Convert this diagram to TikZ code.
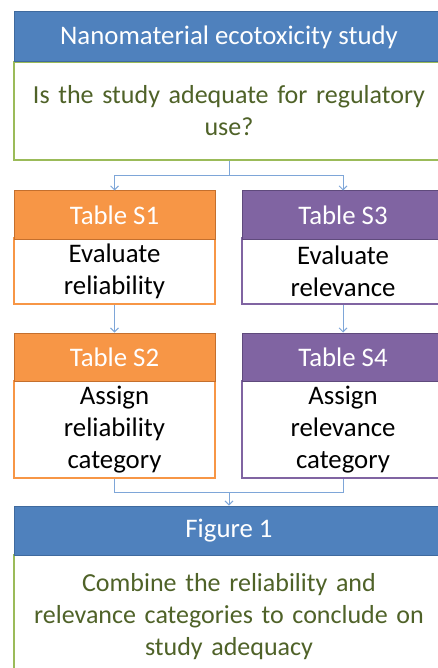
\documentclass[tikz,border=0pt]{standalone}
\usepackage{fontspec}
\setmainfont{Carlito}
\usetikzlibrary{arrows.meta}
\definecolor{hblue}{HTML}{4F81BD}
\definecolor{hbluedk}{HTML}{3F6A9E}
\definecolor{gborder}{HTML}{9BBB59}
\definecolor{gtext}{HTML}{4F6228}
\definecolor{orfill}{HTML}{F79646}
\definecolor{ordk}{HTML}{C46F2D}
\definecolor{pufill}{HTML}{8064A2}
\definecolor{pudk}{HTML}{5F4A7C}
\definecolor{conncol}{HTML}{7EA6D8}
\tikzset{
  txt/.style={font=\fontsize{26.8}{32}\selectfont, align=center, inner sep=0pt},
  gtxt/.style={font=\fontsize{26}{32}\selectfont, align=center, inner sep=0pt},
  bluehead/.style={txt, draw=hbluedk, fill=hblue, text=white, line width=1pt},
  greenbody/.style={gtxt, draw=gborder, fill=white, text=gtext, line width=1.5pt},
  orhead/.style={txt, draw=ordk, fill=orfill, text=white, line width=1pt},
  orbody/.style={txt, draw=orfill, fill=white, text=black, line width=1.5pt},
  puhead/.style={txt, draw=pudk, fill=pufill, text=white, line width=1pt},
  pubody/.style={txt, draw=pufill, fill=white, text=black, line width=1.5pt},
  conn/.style={draw=conncol, line width=0.9pt},
  arr/.style={conn, -{Straight Barb[length=4pt,width=8pt]}}
}
\begin{document}
\begin{tikzpicture}[x=1pt,y=-1pt]
\path[use as bounding box] (0,0) rectangle (438,668);
\clip (0,0) rectangle (438,668);
% top
\node[greenbody, minimum width=430pt, minimum height=98pt, text width=420pt] (q1) at (229,111) {Is the study adequate for regulatory\\use?};
\node[bluehead, minimum width=430pt, minimum height=50pt] (h1) at (229,37) {Nanomaterial ecotoxicity study};
% left column
\node[orbody, minimum width=201pt, minimum height=66pt] (s1b) at (114.5,271) {Evaluate\\reliability};
\node[orhead, minimum width=201pt, minimum height=48pt] (s1h) at (114.5,215) {Table S1};
\node[orbody, minimum width=201pt, minimum height=97pt] (s2b) at (114.5,429.5) {Assign\\reliability\\category};
\node[orhead, minimum width=201pt, minimum height=48pt] (s2h) at (114.5,357) {Table S2};
% right column
\node[pubody, minimum width=202pt, minimum height=66pt] (s3b) at (343,271) {Evaluate\\relevance};
\node[puhead, minimum width=202pt, minimum height=48pt] (s3h) at (343,215) {Table S3};
\node[pubody, minimum width=202pt, minimum height=97pt] (s4b) at (343,429.5) {Assign\\relevance\\category};
\node[puhead, minimum width=202pt, minimum height=48pt] (s4h) at (343,357) {Table S4};
% bottom
\node[greenbody, minimum width=430pt, minimum height=124pt, text width=420pt] (fb) at (229,617) {Combine the reliability and\\relevance categories to conclude on\\study adequacy};
\node[bluehead, minimum width=430pt, minimum height=49pt] (fh) at (229,530.5) {Figure 1};
% connectors
\coordinate (split) at (229,175);
\coordinate (join) at (229,492);
\draw[conn] (q1.south) -- (split);
\draw[arr] (split) -| (s1h.north);
\draw[arr] (split) -| (s3h.north);
\draw[arr] (s1b.south) -- (s2h.north);
\draw[arr] (s3b.south) -- (s4h.north);
\draw[conn] (s2b.south) |- (join);
\draw[conn] (s4b.south) |- (join);
\draw[arr] (join) -- (fh.north);
\end{tikzpicture}
\end{document}
